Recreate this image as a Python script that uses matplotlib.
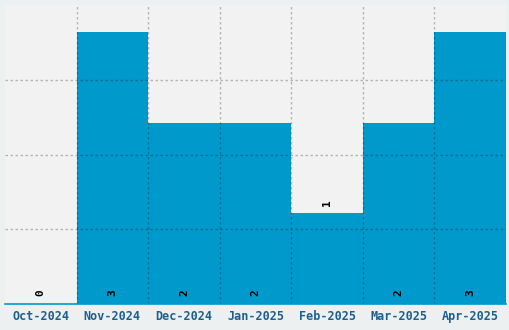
import matplotlib
matplotlib.use('Agg')
import matplotlib.pyplot as plt
import numpy as np

months = ['Oct-2024', 'Nov-2024', 'Dec-2024', 'Jan-2025', 'Feb-2025', 'Mar-2025', 'Apr-2025']
counts = [0, 3, 2, 2, 1, 2, 3]

bar_color = '#0099cc'
text_blue = '#1d5f8f'

fig = plt.figure(figsize=(5.1, 3.3), dpi=100)
fig.patch.set_facecolor('#edf0f1')
ax = fig.add_axes([5 / 510, 26 / 330, 501 / 510, 299 / 330])
ax.set_facecolor('#f2f2f2')

x = np.arange(len(months))
ax.bar(x, counts, width=1.0, color=bar_color, zorder=2)

ymax = max(counts) * 1.1
ax.set_xlim(-0.5, len(months) - 0.5)
ax.set_ylim(0, ymax)

# grid: horizontal at quarters, vertical at category edges
dash = (0, (1.8, 1.8))
ax.set_yticks(np.linspace(0, ymax, 5)[1:-1])
ax.set_xticks(x)
ax.set_xticks(np.arange(0.5, len(months) - 0.5, 1), minor=True)
ax.grid(axis='y', which='major', color='black', alpha=0.25, linestyle=dash, linewidth=1, zorder=3)
ax.grid(axis='x', which='minor', color='black', alpha=0.25, linestyle=dash, linewidth=1, zorder=3)
ax.set_axisbelow(False)

ax.set_xticklabels(months, family='DejaVu Sans Mono', fontweight='bold', fontsize=8.5, color=text_blue)
ax.tick_params(axis='x', which='both', length=0, pad=4)
ax.tick_params(axis='y', length=0, labelleft=False)

for s in ['top', 'right', 'left']:
    ax.spines[s].set_visible(False)
ax.spines['bottom'].set_color(bar_color)
ax.spines['bottom'].set_linewidth(1.2)
ax.spines['bottom'].set_zorder(4)

# value labels, small bars get the label above
for xi, v in zip(x, counts):
    base = v if 0 < v <= 1 else 0
    ax.annotate(str(v), (xi, base), xytext=(0, 5.5), textcoords='offset points',
                rotation=90, ha='center', va='bottom', family='DejaVu Sans Mono',
                fontweight='bold', fontsize=8, color='black', zorder=5)

fig.savefig('out.png', dpi=100, facecolor=fig.get_facecolor())
